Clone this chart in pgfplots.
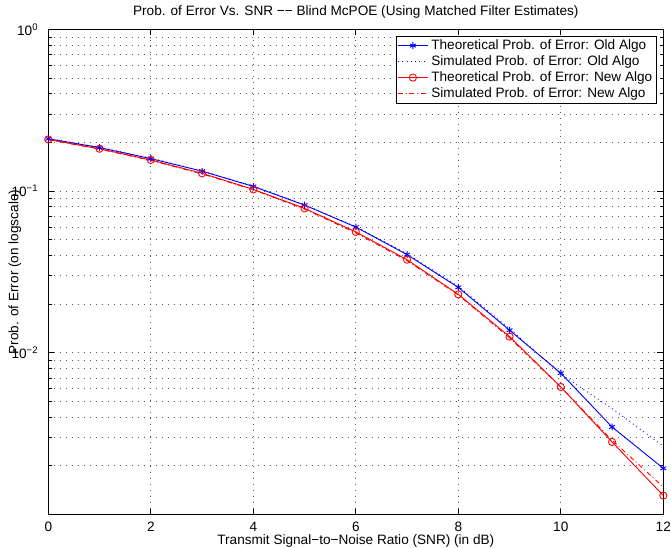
\documentclass[border=0pt]{standalone}
\usepackage{fontspec}
\setmainfont{Liberation Sans}
\usepackage{pgfplots}
\pgfplotsset{compat=1.18}
\newcommand\ff{\fontsize{13.6bp}{16bp}\selectfont}
\definecolor{mblue}{RGB}{0,0,255}
\definecolor{mred}{RGB}{255,0,0}
\begin{document}
\ff
\begin{tikzpicture}
\begin{semilogyaxis}[
  scale only axis, width=615bp, height=485bp,
  xmin=0, xmax=12, ymin=1e-3, ymax=1,
  xtick={0,2,4,6,8,10,12},
  ytick={1e-3,1e-2,1e-1,1},
  yticklabels={{},10\textsuperscript{−2},10\textsuperscript{−1},10\textsuperscript{0}},
  minor ytick={0.002,0.003,0.004,0.005,0.006,0.007,0.008,0.009,0.02,0.03,0.04,0.05,0.06,0.07,0.08,0.09,0.2,0.3,0.4,0.5,0.6,0.7,0.8,0.9},
  /pgf/number format/assume math mode=true,
  tick label style={font=\ff},
  xticklabel style={anchor=base, yshift=-17.2bp},
  yticklabel style={anchor=east, xshift=-5.5bp},
  tick align=inside,
  major tick length=6bp, minor tick length=3.5bp,
  every tick/.style={black, line width=0.7bp},
  axis line style={black, line width=1.1bp},
  xmajorgrids=true, ymajorgrids=true, yminorgrids=true,
  major grid style={black!65, line width=0.7bp, dash pattern=on 0.9bp off 5.1bp},
  minor grid style={black!65, line width=0.7bp, dash pattern=on 0.9bp off 5.1bp},
  title={Prob. of Error Vs. SNR −− Blind McPOE (Using Matched Filter Estimates)},
  title style={font=\ff, at={(axis description cs:0.5,1)}, anchor=base, yshift=7.8bp, inner sep=0pt},
  xlabel={Transmit Signal−to−Noise Ratio (SNR) (in dB)},
  xlabel style={font=\ff, at={(axis description cs:0.5,0)}, anchor=base, yshift=-30.3bp, inner sep=0pt},
  ylabel={Prob. of Error (on logscale)},
  ylabel style={font=\ff, at={(axis description cs:-0.0436,0.5)}, anchor=south, inner sep=0pt},
  legend cell align=left,
  legend style={font=\ff, at={(axis description cs:0.9893,0.9872)}, anchor=north east,
    fill=white, inner xsep=1pt, inner ysep=1.5bp, row sep=0pt,
    nodes={inner ysep=1.5bp, inner xsep=3bp, text height=10bp, text depth=3bp}},
  every axis legend/.append style={line width=0.8bp},
  legend image code/.code={\draw[mark repeat=2,mark phase=2,#1] plot coordinates {(0bp,0bp) (15bp,0bp) (30bp,0bp)};},
]
\addplot[color=mblue, line width=0.9bp, mark=asterisk, mark size=3.4bp, mark options={solid, line width=0.9bp}] coordinates {
(0,0.211) (1,0.186) (2,0.159) (3,0.133) (4,0.107) (5,0.082) (6,0.0600) (7,0.0405) (8,0.0254) (9,0.0138) (10,0.00749) (11,0.00348) (12,0.00193)};
\addlegendentry{Theoretical Prob. of Error: Old Algo}
\addplot[color=mblue, line width=0.9bp, dash pattern=on 0.9bp off 3.4bp] coordinates {
(0,0.212) (1,0.187) (2,0.160) (3,0.1335) (4,0.1075) (5,0.0825) (6,0.0603) (7,0.0410) (8,0.0258) (9,0.0141) (10,0.0074) (11,0.00452) (12,0.00265)};
\addlegendentry{Simulated Prob. of Error: Old Algo}
\addplot[color=mred, line width=0.9bp, mark=o, mark size=3.6bp, mark options={solid, line width=0.9bp}] coordinates {
(0,0.209) (1,0.183) (2,0.156) (3,0.129) (4,0.1026) (5,0.0783) (6,0.0560) (7,0.0377) (8,0.0230) (9,0.0126) (10,0.00615) (11,0.00281) (12,0.00131)};
\addlegendentry{Theoretical Prob. of Error: New Algo}
\addplot[color=mred, line width=0.9bp, dash pattern=on 5bp off 2.8bp on 0.9bp off 2.8bp] coordinates {
(0,0.208) (1,0.182) (2,0.155) (3,0.128) (4,0.102) (5,0.0775) (6,0.0552) (7,0.0372) (8,0.0228) (9,0.0124) (10,0.00615) (11,0.00288) (12,0.00148)};
\addlegendentry{Simulated Prob. of Error: New Algo}
\end{semilogyaxis}
\pgfresetboundingbox
\path[use as bounding box] ([xshift=-48.3bp,yshift=-33.5bp]current axis.south west) rectangle ([xshift=7.7bp,yshift=29.5bp]current axis.north east);
\end{tikzpicture}
\end{document}
